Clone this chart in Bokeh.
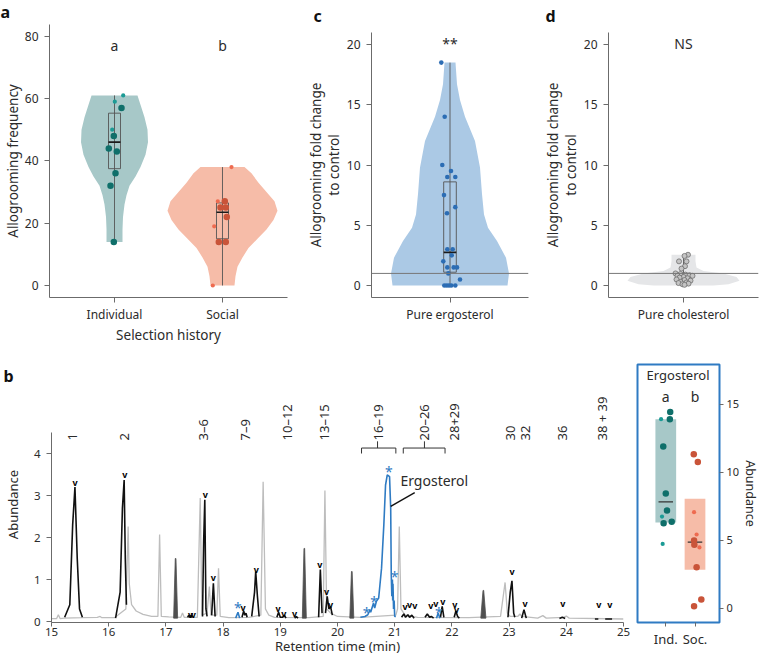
import math
from bokeh.plotting import figure
from bokeh.layouts import row, column
from bokeh.models import Range1d, FixedTicker, Span
from bokeh.embed import file_html
from bokeh.resources import INLINE
from bokeh.core.properties import value

FONT = "Noto Sans"
AX = "#6b6b6b"
TXT = "#2b2b2b"

# ---------------- Panel a : allogrooming frequency ----------------
A_GROUPS = ["Individual", "Social"]
A_LETTERS = ["a", "b"]
A_IND_VALUES = [61, 59, 57, 50, 48, 44, 43, 36, 32, 14]
A_IND_JITTER = [8.7, 0.3, 7, -2.3, -0.7, -5.7, 2.3, 1, -4, -0.7]
A_IND_BIG = [0, 0, 1, 0, 1, 1, 1, 1, 1, 1]
A_SOC_VALUES = [38, 27, 27, 25, 25, 22, 19, 14, 14, 0]
A_SOC_JITTER = [9, -4.7, 2.3, -2, 3.3, 4.3, -8.3, -3.7, 3.3, -9.7]
A_SOC_BIG = [0, 0, 1, 1, 1, 1, 0, 1, 1, 0]
A_IND_BOX = [37.5, 46, 55.3, 14, 61]      # q1, median, q3, min, max
A_SOC_BOX = [15, 23.5, 26.5, 0, 38]
A_IND_VIOLIN_Y = [14, 18, 22, 26, 29, 32, 35, 38, 42, 46, 50, 54, 58, 61]
A_IND_VIOLIN_D = [8, 8, 8.5, 10, 12, 15, 21, 26, 31, 33.5, 33, 30, 26, 23]
A_SOC_VIOLIN_Y = [0, 3, 6, 9, 12, 15, 18, 21, 24, 27, 30, 33, 36, 38]
A_SOC_VIOLIN_D = [12, 13, 15, 20, 26, 35, 44, 51, 55, 52, 44, 36, 29, 22]

# ---------------- Panel c : pure ergosterol ----------------
C_LABEL = "Pure ergosterol"
C_VALUES = [18.5, 14, 10, 9.5, 9, 9, 7.5, 6.5, 6, 3, 3, 2.5, 2, 1.5, 1.5, 1.5, 1.0, 0.5, 0, 0, 0, 0, 0]
C_JITTER = [-8.7, -5.3, -7.7, 1, -2.7, 5.3, -6, 5.3, -3, -2.7, 2.7, 1.7, -6.7, -2.7, 3.7, 7, -1.7, 10,
            -5.7, -3.3, -1, 1.3, 5.3]
C_BOX = [1.1, 2.75, 8.6, 0, 18.5]
C_VIOLIN_Y = [0, 1, 2.3, 3.7, 4.8, 5.9, 7.6, 9.8, 12, 14, 15.4, 16.7, 18.5]
C_VIOLIN_D = [57.5, 59, 56, 47, 38, 34, 32, 30, 25, 15, 10, 7, 5.5]

# ---------------- Panel d : pure cholesterol ----------------
D_LABEL = "Pure cholesterol"
D_VALUES = [2.55, 2.45, 2.0, 2.0, 1.6, 1.4, 1.0, 0.95, 0.9, 0.85, 0.8, 0.8, 0.7, 0.65, 0.6, 0.5,
            0.45, 0.4, 0.3, 0.25, 0.2, 0.15, 0.1, 0.05]
D_JITTER = [4.5, 1, -4.5, 3, 1.5, -2, -8, -3, 2, 6, -6, 9, 0, -4, 4, -7, 1, 7, -3, 3, -5, 5, -1, 1]
D_BOX = [0.3, 0.6, 0.9, 0, 2.5]
D_VIOLIN_Y = [0, 0.1, 0.4, 0.7, 1.0, 1.2, 1.5, 2.0, 2.55]
D_VIOLIN_D = [30, 45, 56, 53, 40, 20, 13, 12, 12]

# ---------------- Panel b : chromatogram ----------------
B_GRAY_T = [15.00, 15.09, 15.12, 15.15, 15.22, 15.55, 15.80, 15.85, 15.88, 16.10, 16.30, 16.34, 16.36,
            16.40, 16.48, 16.60, 16.75, 16.86, 16.89, 16.92, 17.05, 17.26, 17.29, 17.32, 17.55, 17.60,
            17.63, 17.72, 17.76, 17.79, 17.89, 17.92, 17.95, 18.10, 18.45, 18.66, 18.70, 18.74, 18.80,
            18.90, 19.50, 19.75, 19.78, 19.81, 19.88, 20.00, 20.40, 21.02, 21.05, 21.08, 21.11, 21.18,
            21.40, 22.30, 22.85, 22.93, 22.97, 23.02, 23.15, 23.19, 23.22, 23.50, 23.59, 23.65, 23.95,
            24.00, 24.05, 25.00]
B_GRAY_Y = [0.07, 0.07, 0.16, 0.07, 0.08, 0.09, 0.10, 0.12, 0.09, 0.09, 0.30, 2.26, 0.90,
            0.40, 0.25, 0.17, 0.12, 0.12, 2.07, 0.12, 0.11, 0.10, 0.20, 0.10, 0.10, 2.94,
            0.15, 0.20, 0.83, 0.15, 0.15, 1.27, 0.12, 0.09, 0.10, 0.15, 3.33, 0.30, 0.15,
            0.10, 0.09, 0.12, 3.12, 0.30, 0.20, 0.12, 0.10, 0.15, 0.30, 2.26, 0.30, 0.15,
            0.10, 0.09, 0.12, 0.93, 0.20, 0.12, 0.12, 0.18, 0.12, 0.08, 0.14, 0.08, 0.10,
            0.13, 0.08, 0.06]
B_BLACK_T = [
    [15.23, 15.32, 15.37, 15.41, 15.45, 15.49, 15.54],
    [16.12, 16.20, 16.24, 16.27, 16.29, 16.31],
    [17.38, 17.40, 17.42, 17.44, 17.46],
    [17.64, 17.66, 17.68, 17.70, 17.72],
    [17.80, 17.83, 17.86],
    [18.33, 18.36, 18.38, 18.40, 18.42],
    [18.50, 18.55, 18.57, 18.60, 18.63],
    [18.94, 18.97, 19.00, 19.04, 19.07, 19.10],
    [19.25, 19.28, 19.31],
    [19.67, 19.70, 19.73],
    [19.79, 19.82, 19.85, 19.88, 19.91],
    [21.12, 21.16, 21.19, 21.23, 21.26, 21.30, 21.34],
    [21.53, 21.57, 21.61, 21.64, 21.68],
    [21.80, 21.83, 21.86],
    [22.04, 22.07, 22.10, 22.13],
    [22.98, 23.02, 23.05, 23.08, 23.10],
    [23.22, 23.26, 23.30],
    [23.88, 23.93, 23.98],
    [24.50, 24.56],
    [24.68, 24.80],
]
B_BLACK_Y = [
    [0.10, 0.40, 2.30, 3.20, 1.50, 0.30, 0.10],
    [0.08, 0.70, 2.70, 3.37, 1.50, 0.40],
    [0.10, 0.15, 0.10, 0.15, 0.10],
    [0.12, 1.90, 2.90, 0.30, 0.12],
    [0.15, 0.91, 0.12],
    [0.10, 0.25, 0.15, 0.20, 0.10],
    [0.12, 0.70, 1.19, 0.60, 0.12],
    [0.10, 0.22, 0.10, 0.10, 0.15, 0.08],
    [0.08, 0.12, 0.08],
    [0.10, 1.24, 0.20],
    [0.20, 0.60, 0.30, 0.35, 0.15],
    [0.10, 0.18, 0.10, 0.16, 0.10, 0.15, 0.08],
    [0.10, 0.18, 0.10, 0.12, 0.08],
    [0.10, 0.36, 0.10],
    [0.10, 0.25, 0.12, 0.08],
    [0.10, 0.70, 0.97, 0.20, 0.10],
    [0.08, 0.28, 0.08],
    [0.07, 0.10, 0.07],
    [0.06, 0.06],
    [0.06, 0.06],
]
B_FILLED_T = [17.17, 19.42, 20.25, 22.55]
B_FILLED_H = [1.50, 1.74, 1.19, 0.74]
B_FILLED_W = [0.035, 0.035, 0.035, 0.045]
B_BLUE_T = [
    [20.40, 20.48, 20.53, 20.57, 20.58, 20.63, 20.65, 20.68, 20.72, 20.77, 20.81, 20.84, 20.87,
     20.91, 20.93, 20.94, 20.95, 20.96, 20.965, 20.97, 20.98, 20.99, 21.00, 21.02],
    [18.22, 18.26, 18.29],
    [21.73, 21.76, 21.79],
]
B_BLUE_Y = [
    [0.10, 0.12, 0.16, 0.28, 0.22, 0.44, 0.32, 0.48, 0.56, 1.27, 2.30, 3.25, 3.49,
     3.45, 2.70, 1.10, 0.60, 1.00, 0.50, 0.90, 0.30, 0.50, 0.12, 0.12],
    [0.08, 0.22, 0.08],
    [0.08, 0.20, 0.08],
]
B_STAR_T = [18.26, 20.51, 20.64, 20.90, 21.00, 21.77]
B_STAR_Y = [0.42, 0.30, 0.58, 3.67, 1.17, 0.32]
B_CHEV_T = [15.41, 16.28, 17.43, 17.48, 17.69, 17.83, 18.35, 18.58, 18.96, 19.06, 19.25, 19.69,
            19.81, 19.88, 21.18, 21.26, 21.35, 21.63, 21.72, 21.84, 22.05, 22.08, 23.05, 23.28,
            23.94, 24.57, 24.76]
B_CHEV_Y = [3.31, 3.50, 0.17, 0.17, 3.02, 1.05, 0.33, 1.24, 0.31, 0.19, 0.19, 1.36,
            0.71, 0.40, 0.36, 0.40, 0.38, 0.38, 0.44, 0.48, 0.41, 0.28, 1.19, 0.44,
            0.44, 0.41, 0.41]
B_PEAK_LABELS = ["1", "2", "3–6", "7–9", "10–12", "13–15", "16–19", "20–26", "28+29",
                 "30", "32", "36", "38 + 39"]
B_PEAK_LABEL_T = [15.36, 16.28, 17.64, 18.39, 19.12, 19.76, 20.70, 21.52, 22.04,
                  23.02, 23.28, 23.94, 24.63]
B_BRACKET_START = [20.42, 21.15]
B_BRACKET_END = [21.02, 21.88]
B_BRACKET_MID = [20.70, 21.52]

# ---------------- Panel b inset : ergosterol abundance ----------------
E_GROUPS = ["Ind.", "Soc."]
E_LETTERS = ["a", "b"]
E_IND_VALUES = [14.44, 13.92, 13.92, 11.91, 8.46, 7.21, 6.76, 6.27, 6.37, 4.75]
E_IND_JITTER = [4.7, -5, 4.3, -2.7, 0, 1.3, -4, -2.3, 6.3, -3.3]
E_IND_BIG = [1, 0, 1, 1, 1, 1, 0, 1, 1, 0]
E_SOC_VALUES = [11.35, 10.78, 7.08, 5.44, 5.0, 4.68, 4.49, 3.04, 0.66, 0.17]
E_SOC_JITTER = [-1.3, 3, -1, 1.7, -1, -0.7, 4.7, 1.7, 6.7, -1]
E_SOC_BIG = [1, 1, 0, 0, 1, 1, 0, 1, 1, 1]
E_IND_BOX = [6.33, 7.84, 13.92]   # q1, median, q3
E_SOC_BOX = [2.84, 4.88, 8.06]

# colours
TEAL_V, TEAL_BIG, TEAL_SMALL = "#a7c8c8", "#0f6f6a", "#1b9b95"
SAL_V, SAL_BIG, SAL_SMALL = "#f6bca8", "#c95439", "#ee6b50"
BLUE_V, BLUE_P = "#abc9e5", "#2c6db4"
GREY_V = "#e5e6e8"
BLUE_LINE = "#2f7bc3"


def make_fig(w, h, xr, yr, left, right, top, bottom, **kw):
    p = figure(width=w, height=h, x_range=xr, y_range=yr, output_backend="svg",
               toolbar_location=None, min_border_left=left, min_border_right=right,
               min_border_top=top, min_border_bottom=bottom, frame_align=False, **kw)
    p.grid.visible = False
    p.outline_line_color = None
    p.background_fill_color = "white"
    p.border_fill_color = "white"
    return p


def panel_letter(p, text, offset, valign, standoff):
    p.title.text = text
    p.title.text_font = FONT
    p.title.text_font_size = "16px"
    p.title.text_font_style = "bold"
    p.title.text_color = "#111111"
    p.title.align = "left"
    p.title.offset = offset
    p.title.vertical_align = valign
    p.title.standoff = standoff


def style_axes(p, tick_size="12px", label_size="13.5px"):
    for ax in p.axis:
        ax.axis_line_color = AX
        ax.major_tick_line_color = AX
        ax.minor_tick_line_color = None
        ax.major_tick_out = 5
        ax.major_tick_in = 0
        ax.major_label_text_font = FONT
        ax.major_label_text_font_size = tick_size
        ax.major_label_text_color = TXT
        ax.major_label_standoff = 3
        ax.axis_label_standoff = 3
        ax.axis_label_text_font = FONT
        ax.axis_label_text_font_size = label_size
        ax.axis_label_text_font_style = "normal"
        ax.axis_label_text_color = TXT
        ax.axis_label_text_line_height = 1.0


def violin(p, xc, ys, dens, scale, color):
    xs = [xc + d * scale for d in dens] + [xc - d * scale for d in reversed(dens)]
    yy = list(ys) + list(reversed(ys))
    p.patch(xs, yy, fill_color=color, line_color=None)


def boxplot(p, xc, stats, hw):
    q1, med, q3, lo, hi = stats
    p.segment(x0=[xc], y0=[lo], x1=[xc], y1=[hi], line_color="#555555", line_width=0.9)
    p.quad(left=[xc - hw], right=[xc + hw], bottom=[q1], top=[q3], fill_color=None,
           line_color="#555555", line_width=0.9)
    p.segment(x0=[xc - hw], y0=[med], x1=[xc + hw], y1=[med], line_color="#1a1a1a", line_width=1.6)


def dots(p, xc, vals, jit, big, scale, c_big, c_small, s_big=6.5, s_small=4.2):
    xb = [xc + j * scale for j, b in zip(jit, big) if b]
    yb = [v for v, b in zip(vals, big) if b]
    xs = [xc + j * scale for j, b in zip(jit, big) if not b]
    ys = [v for v, b in zip(vals, big) if not b]
    p.scatter(xs, ys, size=s_small, fill_color=c_small, line_color=None)
    p.scatter(xb, yb, size=s_big, fill_color=c_big, line_color=None)


# ================= Panel a =================
H1 = 346
BOT1 = 49
fa = make_fig(298, H1, Range1d(-0.602, 1.602), Range1d(-3.85, 83.76), 49, 11, 24, BOT1)
SA = 1 / 108
violin(fa, 0, A_IND_VIOLIN_Y, A_IND_VIOLIN_D, SA, TEAL_V)
violin(fa, 1, A_SOC_VIOLIN_Y, A_SOC_VIOLIN_D, SA, SAL_V)
boxplot(fa, 0, A_IND_BOX, 6 * SA)
boxplot(fa, 1, A_SOC_BOX, 6 * SA)
dots(fa, 0, A_IND_VALUES, A_IND_JITTER, A_IND_BIG, SA, TEAL_BIG, TEAL_SMALL)
dots(fa, 1, A_SOC_VALUES, A_SOC_JITTER, A_SOC_BIG, SA, SAL_BIG, SAL_SMALL)
fa.text(x=[0, 1], y=[77, 77], text=A_LETTERS, text_align="center", text_baseline="middle",
        text_font=value(FONT), text_font_size="14px", text_color=TXT)
fa.yaxis.ticker = FixedTicker(ticks=[0, 20, 40, 60, 80])
fa.xaxis.ticker = FixedTicker(ticks=[0, 1])
fa.xaxis.major_label_overrides = {0: A_GROUPS[0], 1: A_GROUPS[1]}
fa.yaxis.axis_label = "Allogrooming frequency"
fa.xaxis.axis_label = "Selection history"
style_axes(fa)
fa.xaxis.axis_label_standoff = 0
fa.yaxis.major_label_standoff = 6
fa.yaxis.axis_label_standoff = 0
panel_letter(fa, "a", -49, "top", 0)

# ================= Panel c =================
fc = make_fig(240, H1, Range1d(-0.5, 0.5), Range1d(-1.0, 21.0), 73, 10, 32, BOT1)
SC = 1 / 157
violin(fc, 0, C_VIOLIN_Y, C_VIOLIN_D, SC, BLUE_V)
boxplot(fc, 0, C_BOX, 6.3 * SC)
fc.scatter([j * SC for j in C_JITTER], C_VALUES, size=4.6, fill_color=BLUE_P, line_color=None)
fc.add_layout(Span(location=1, dimension="width", line_color="#777777", line_width=1))
fc.text(x=[0], y=[20.1], text=["**"], text_align="center", text_baseline="middle",
        text_font=value(FONT), text_font_size="14px", text_color=TXT)
fc.yaxis.ticker = FixedTicker(ticks=[0, 5, 10, 15, 20])
fc.xaxis.ticker = FixedTicker(ticks=[0])
fc.xaxis.major_label_overrides = {0: C_LABEL}
fc.yaxis.axis_label = "Allogrooming fold change\nto control"
style_axes(fc)
fc.yaxis.major_label_standoff = 6
fc.yaxis.axis_label_standoff = 1
panel_letter(fc, "c", -58, "top", 8)

# ================= Panel d =================
fd = make_fig(224, H1, Range1d(-0.5, 0.5), Range1d(-1.0, 21.0), 70, 4, 32, BOT1)
SD = 1 / 150
violin(fd, 0, D_VIOLIN_Y, D_VIOLIN_D, SD, GREY_V)
boxplot(fd, 0, D_BOX, 5 * SD)
fd.add_layout(Span(location=1, dimension="width", line_color="#777777", line_width=1))
fd.scatter([j * SD for j in D_JITTER], D_VALUES, size=5, fill_color="#c4c4c4",
           line_color="#6e6e6e", line_width=0.8)
fd.text(x=[0], y=[20.1], text=["NS"], text_align="center", text_baseline="middle",
        text_font=value(FONT), text_font_size="14px", text_color=TXT)
fd.yaxis.ticker = FixedTicker(ticks=[0, 5, 10, 15, 20])
fd.xaxis.ticker = FixedTicker(ticks=[0])
fd.xaxis.major_label_overrides = {0: D_LABEL}
fd.yaxis.axis_label = "Allogrooming fold change\nto control"
style_axes(fd)
fd.yaxis.major_label_standoff = 6
fd.yaxis.axis_label_standoff = 1
panel_letter(fd, "d", -63, "top", 8)

# ================= Panel b =================
H2 = 312
TOP2 = 40
BOT2 = 36
YSC = 42.0  # pixels per abundance unit
WB, WE = 630, 132
fb = make_fig(WB, H2, Range1d(15, 25),
              Range1d(-1 / YSC, -1 / YSC + (H2 - TOP2 - BOT2) / YSC), 48, 7, TOP2, BOT2)
fb.line(B_GRAY_T, B_GRAY_Y, line_color="#bdbdbd", line_width=1.3)
for t, h, w in zip(B_FILLED_T, B_FILLED_H, B_FILLED_W):
    fb.patch([t - w, t - 0.006, t + 0.006, t + w], [0.08, h, h, 0.08],
             fill_color="#4f4f4f", line_color="#4f4f4f", line_width=0.8)
fb.multi_line(B_BLACK_T, B_BLACK_Y, line_color="#111111", line_width=1.6)
fb.multi_line(B_BLUE_T, B_BLUE_Y, line_color=BLUE_LINE, line_width=1.6)
fb.text(x=B_STAR_T, y=B_STAR_Y, text=["*"] * len(B_STAR_T), text_align="center",
        text_baseline="middle", y_offset=4, text_font=value(FONT), text_font_size="14px",
        text_color=BLUE_LINE)
fb.text(x=B_CHEV_T, y=B_CHEV_Y, text=["v"] * len(B_CHEV_T), text_align="center",
        text_baseline="middle", text_font=value(FONT), text_font_size="9px",
        text_font_style="bold", text_color="#000000")
fb.text(x=B_PEAK_LABEL_T, y=[4.31] * len(B_PEAK_LABELS), text=B_PEAK_LABELS, angle=math.pi / 2,
        text_align="left", text_baseline="middle", text_font=value(FONT), text_font_size="13px",
        text_color=TXT)
BRK_Y, BRK_LEG = 4.13, 4.0
for s, e, m in zip(B_BRACKET_START, B_BRACKET_END, B_BRACKET_MID):
    fb.line([s, s, e, e], [BRK_LEG, BRK_Y, BRK_Y, BRK_LEG], line_color="#333333", line_width=1)
    fb.line([m, m], [BRK_Y, 4.29], line_color="#333333", line_width=1)
fb.text(x=[21.10], y=[3.36], text=["Ergosterol"], text_align="left", text_baseline="middle",
        text_font=value(FONT), text_font_size="14px", text_color=TXT)
fb.line([21.35, 20.93], [3.07, 2.74], line_color="#111111", line_width=1.4)
fb.xaxis.ticker = FixedTicker(ticks=list(range(15, 26)))
fb.yaxis.ticker = FixedTicker(ticks=[0, 1, 2, 3, 4])
fb.yaxis.bounds = (-1 / YSC, 4.5)
fb.xaxis.axis_label = "Retention time (min)"
fb.yaxis.axis_label = "Abundance"
style_axes(fb, tick_size="11.5px", label_size="13px")
fb.xaxis.major_label_standoff = 1
fb.xaxis.axis_label_standoff = -2
fb.xaxis.major_tick_out = 4
fb.yaxis.major_label_standoff = 6
fb.yaxis.axis_label_standoff = 9
panel_letter(fb, "b", -48, "bottom", 0)

# ================= Panel b inset =================
SE = 1 / 31
fe = make_fig(WE, H2, Range1d(-0.968, -0.968 + 87 * SE), Range1d(-1.03, 17.94), 7, 38, 18, 36,
              y_axis_location="right")
fe.outline_line_color = BLUE_LINE
fe.outline_line_width = 2
HW = 11 * SE
fe.quad(left=[0 - HW], right=[0 + HW], bottom=[E_IND_BOX[0]], top=[E_IND_BOX[2]],
        fill_color=TEAL_V, line_color=None)
fe.quad(left=[1 - HW], right=[1 + HW], bottom=[E_SOC_BOX[0]], top=[E_SOC_BOX[2]],
        fill_color=SAL_V, line_color=None)
fe.segment(x0=[0 - 0.7 * HW, 1 - 0.7 * HW], y0=[E_IND_BOX[1], E_SOC_BOX[1]],
           x1=[0 + 0.7 * HW, 1 + 0.7 * HW], y1=[E_IND_BOX[1], E_SOC_BOX[1]],
           line_color="#333333", line_width=1.2)
dots(fe, 0, E_IND_VALUES, E_IND_JITTER, E_IND_BIG, SE, TEAL_BIG, TEAL_SMALL, 6.5, 4.2)
dots(fe, 1, E_SOC_VALUES, E_SOC_JITTER, E_SOC_BIG, SE, SAL_BIG, SAL_SMALL, 6.5, 4.2)
fe.text(x=[0.42], y=[17.2], text=["Ergosterol"], text_align="center", text_baseline="middle",
        text_font=value(FONT), text_font_size="13px", text_color=TXT)
fe.text(x=[0, 1], y=[15.6, 15.6], text=E_LETTERS, text_align="center", text_baseline="middle",
        text_font=value(FONT), text_font_size="14px", text_color=TXT)
fe.yaxis.ticker = FixedTicker(ticks=[0, 5, 10, 15])
fe.xaxis.ticker = FixedTicker(ticks=[0, 1])
fe.xaxis.major_label_overrides = {0: E_GROUPS[0], 1: E_GROUPS[1]}
fe.yaxis.axis_label = "Abundance"
style_axes(fe, tick_size="11px", label_size="12.5px")
for ax in fe.axis:
    ax.axis_line_color = None
    ax.major_tick_out = 4
fe.xaxis.major_label_text_font_size = "13px"
fe.yaxis.major_label_standoff = 3
fe.yaxis.axis_label_standoff = 0

layout = column(row(fa, fc, fd), row(fb, fe))
open("out.html", "w").write(file_html(layout, INLINE))
